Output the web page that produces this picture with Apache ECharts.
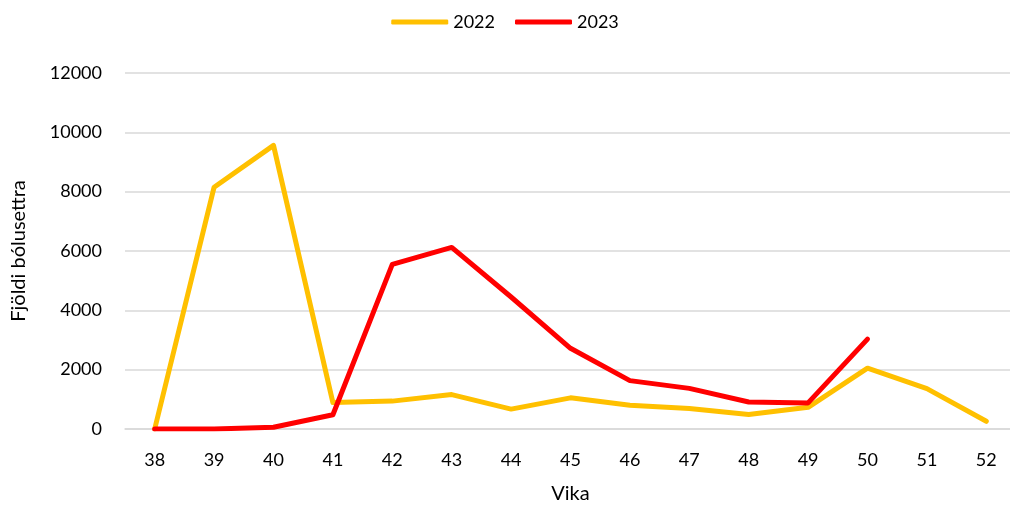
<!DOCTYPE html>
<html>
<head>
<meta charset="utf-8">
<script src="https://cdn.jsdelivr.net/npm/echarts@6/dist/echarts.min.js"></script>
<style>
  html, body { margin: 0; padding: 0; background: #fff; }
  #chart { width: 1010px; height: 510px; }
</style>
</head>
<body>
<div id="chart"></div>
<script>
  // vikur
  const weeks = ['38', '39', '40', '41', '42', '43', '44', '45', '46', '47', '48', '49', '50', '51', '52'];
  // fjöldi bólusettra
  const y2022 = [0, 8150, 9560, 890, 940, 1160, 670, 1050, 800, 690, 490, 730, 2050, 1360, 260];
  const y2023 = [0, 0, 60, 480, 5550, 6120, 4450, 2720, 1630, 1370, 910, 880, 3030];
  const yTicks = [0, 2000, 4000, 6000, 8000, 10000, 12000];

  const font = 'Lato, "Open Sans", sans-serif';
  const chart = echarts.init(document.getElementById('chart'));

  chart.setOption({
    animation: false,
    textStyle: { fontFamily: font },
    legend: {
      top: 8,
      left: 'center',
      itemWidth: 57,
      itemHeight: 5,
      itemGap: 20,
      icon: 'roundRect',
      textStyle: { fontSize: 18, color: '#000', fontFamily: font },
      data: ['2022', '2023']
    },
    grid: {
      left: 125,
      top: 73,
      width: 891,
      height: 356,
      containLabel: false,
      outerBoundsMode: 'none'
    },
    xAxis: {
      type: 'category',
      data: weeks,
      boundaryGap: true,
      name: 'Vika',
      nameLocation: 'middle',
      nameGap: 55,
      nameTextStyle: { fontSize: 20, color: '#000' },
      axisLine: { lineStyle: { color: '#d9d9d9', width: 1.5 } },
      axisTick: { show: false },
      axisLabel: { fontSize: 18, color: '#000', margin: 22 }
    },
    yAxis: {
      type: 'value',
      min: yTicks[0],
      max: yTicks[yTicks.length - 1],
      interval: 2000,
      name: 'Fjöldi bólusettra',
      nameLocation: 'middle',
      nameGap: 96,
      nameTextStyle: { fontSize: 20, color: '#000' },
      axisLine: { show: false },
      axisTick: { show: false },
      axisLabel: { fontSize: 18, color: '#000', margin: 23, formatter: v => String(v) },
      splitLine: { lineStyle: { color: '#d9d9d9', width: 1.5 } }
    },
    series: [
      {
        name: '2022',
        type: 'line',
        data: y2022,
        symbol: 'none',
        color: '#ffc000',
        lineStyle: { color: '#ffc000', width: 5, cap: 'round', join: 'round' }
      },
      {
        name: '2023',
        type: 'line',
        data: y2023,
        symbol: 'none',
        color: '#ff0000',
        lineStyle: { color: '#ff0000', width: 5, cap: 'round', join: 'round' }
      }
    ]
  });
</script>
</body>
</html>
